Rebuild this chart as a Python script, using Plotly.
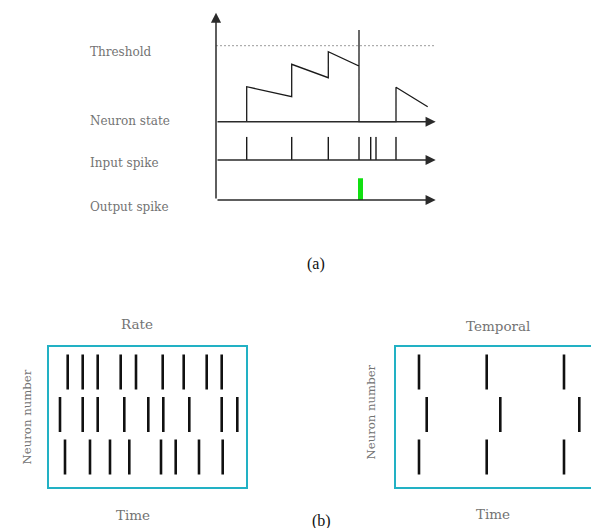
import plotly.graph_objects as go

# ---------------- data ----------------
# (a) integrate-and-fire diagram (time units along the track axis)
input_spike_t = [30.7, 75.7, 112.3, 143.0, 154.7, 160.0, 180.0]
state_t = [30.7, 30.7, 75.7, 75.7, 112.3, 112.3, 143.0, 143.0, 143.0, 180.0, 180.0, 211.7]
state_v = [0.0, 35.0, 25.0, 57.4, 44.0, 70.0, 55.7, 91.7, 0.0, 0.0, 34.4, 15.0]
threshold_v = 76.0
output_spike_t = [144.3]
track_end_t = 219.7

# (b) raster plots: spike times for neurons 3 (top), 2, 1 (bottom)
rate_spikes = {
    3: [18.7, 33.7, 48.7, 71.7, 87.0, 113.7, 134.7, 157.7, 172.7],
    2: [11.0, 33.7, 48.7, 75.3, 99.3, 114.3, 140.3, 172.7, 188.3],
    1: [16.0, 41.0, 61.0, 80.3, 112.0, 126.7, 150.0, 173.7],
}
temporal_spikes = {
    3: [23.0, 90.7, 168.0],
    2: [30.7, 104.3, 183.3],
    1: [23.0, 90.7, 168.0],
}

track_labels = ["Threshold", "Neuron state", "Input spike", "Output spike"]
panel_titles = ["Rate", "Temporal"]

# ---------------- styles ----------------
W, H = 591, 528
GRAY = "#737373"
TEAL = "#22b1c4"
AX = "#2a2a2a"
SERIF = "DejaVu Serif"

fig = go.Figure()

# neuron state
fig.add_trace(go.Scatter(x=state_t, y=state_v, mode="lines", xaxis="x", yaxis="y",
                         line=dict(color="#1a1a1a", width=1.3), hoverinfo="skip"))
# threshold
fig.add_trace(go.Scatter(x=[0, track_end_t], y=[threshold_v, threshold_v], mode="lines",
                         xaxis="x", yaxis="y", line=dict(color="#9a9a9a", width=1, dash="2px,2px"),
                         hoverinfo="skip"))
# input spikes
xs, ys = [], []
for t in input_spike_t:
    xs += [t, t, None]
    ys += [0, 1, None]
fig.add_trace(go.Scatter(x=xs, y=ys, mode="lines", xaxis="x", yaxis="y2",
                         line=dict(color="#1a1a1a", width=1.4), hoverinfo="skip"))
# output spike
fig.add_trace(go.Bar(x=output_spike_t, y=[1], base=0, width=4.5, xaxis="x", yaxis="y3",
                     marker=dict(color="#11e011", line=dict(width=0)), hoverinfo="skip"))

# rasters
def raster(spikes, xa, ya):
    xr, yr = [], []
    for n, times in spikes.items():
        xr += times
        yr += [n] * len(times)
    fig.add_trace(go.Scatter(x=xr, y=yr, mode="markers", xaxis=xa, yaxis=ya,
                             marker=dict(symbol="line-ns", size=25,
                                         line=dict(color="#111111", width=2.6)),
                             hoverinfo="skip"))

raster(rate_spikes, "x4", "y4")
raster(temporal_spikes, "x5", "y5")

hidden = dict(visible=False, showgrid=False, zeroline=False, fixedrange=True)

def py(p):  # pixel row -> paper fraction
    return 1 - p / H

def px(p):
    return p / W

box_axis = dict(showgrid=False, zeroline=False, showticklabels=False, ticks="",
                showline=True, linecolor=TEAL, linewidth=2, fixedrange=True)

fig.update_layout(
    width=W, height=H, margin=dict(l=0, r=0, t=0, b=0),
    paper_bgcolor="white", plot_bgcolor="rgba(0,0,0,0)", showlegend=False,
    xaxis=dict(domain=[px(216), 1], range=[0, 375], anchor="y", **hidden),
    yaxis=dict(domain=[py(200), py(10)], range=[-78.3, 111.7], anchor="x", **hidden),
    yaxis2=dict(domain=[py(160), py(136.7)], range=[0, 1], anchor="x", **hidden),
    yaxis3=dict(domain=[py(200), py(178.3)], range=[0, 1], anchor="x", **hidden),
    xaxis4=dict(domain=[px(49), px(246)], range=[0, 197], anchor="y4", mirror=True, **box_axis),
    yaxis4=dict(domain=[py(486.7), py(347.3)], range=[0.30, 3.58], anchor="x4", mirror=True, **box_axis),
    xaxis5=dict(domain=[px(396), 1], range=[0, 195], anchor="y5", mirror=True, **box_axis),
    yaxis5=dict(domain=[py(486.7), py(347.3)], range=[0.30, 3.58], anchor="x5", mirror=False, **box_axis),
    bargap=0,
)

# axes with arrow heads for the three tracks and vertical axis
arrow = dict(text="", showarrow=True, arrowhead=2, arrowsize=1.35, arrowwidth=1.5,
             arrowcolor=AX, standoff=0)
fig.add_annotation(x=track_end_t, y=0, xref="x", yref="y", ax=0, ay=0, axref="x", ayref="y", **arrow)
fig.add_annotation(x=track_end_t, y=0, xref="x", yref="y2", ax=0, ay=0, axref="x", ayref="y2", **arrow)
fig.add_annotation(x=track_end_t, y=0, xref="x", yref="y3", ax=0, ay=0, axref="x", ayref="y3", **arrow)
fig.add_annotation(x=0, y=109.0, xref="x", yref="y", ax=0, ay=-78.3, axref="x", ayref="y", **arrow)

# track labels
label_rows = [52, 120.7, 163.3, 206.7]
for lab, r in zip(track_labels, label_rows):
    fig.add_annotation(text=lab, x=px(88.3), y=py(r), xref="paper", yref="paper",
                       xanchor="left", yanchor="middle", showarrow=False,
                       font=dict(family=SERIF, size=12, color=GRAY))

txt = dict(xref="paper", yref="paper", xanchor="center", yanchor="middle", showarrow=False)
fig.add_annotation(text="(a)", x=px(316.3), y=py(264),
                   font=dict(family="Liberation Serif", size=16, color="#111"), **txt)
fig.add_annotation(text="(b)", x=px(321.7), y=py(521),
                   font=dict(family="Liberation Serif", size=16, color="#111"), **txt)

# panel titles and axis titles
for title, cx, cy in zip(panel_titles, [136.7, 497.5], [324, 326]):
    fig.add_annotation(text=title, x=px(cx), y=py(cy),
                       font=dict(family=SERIF, size=13.5, color=GRAY), **txt)
for cx, cy in [(132.5, 515), (492.7, 514)]:
    fig.add_annotation(text="Time", x=px(cx), y=py(cy),
                       font=dict(family=SERIF, size=13.5, color=GRAY), **txt)
for cx, cy in [(26.7, 416.7), (370, 412.5)]:
    fig.add_annotation(text="Neuron number", x=px(cx), y=py(cy), textangle=-90,
                       font=dict(family=SERIF, size=11.7, color=GRAY), **txt)

fig.write_html("out.html")
